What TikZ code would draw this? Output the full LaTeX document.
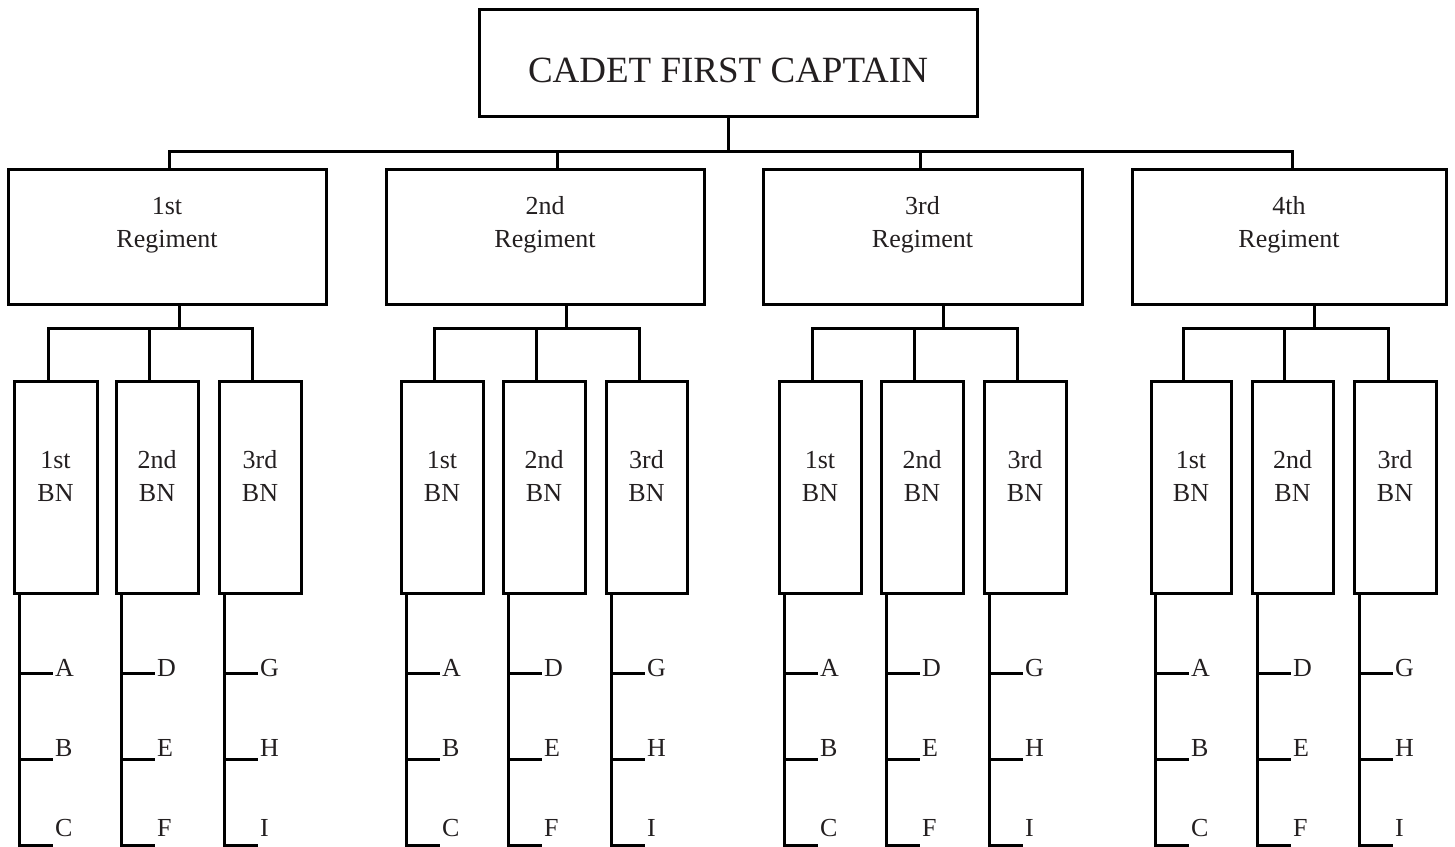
\documentclass[tikz,border=0pt]{standalone}
\usepackage{fontspec}
\setmainfont{Liberation Serif}
\definecolor{ink}{RGB}{35,31,32}
\tikzset{
  conn/.style={draw=black, line width=3pt},
  boxst/.style={draw=black, line width=3pt, rectangle, inner sep=0pt, outer sep=0pt, anchor=north west},
  txt/.style={inner sep=0pt, text=ink, font=\fontsize{26}{33}\selectfont, anchor=base},
}
\newcommand{\twolines}[2]{\begin{tabular}[t]{@{}c@{}}#1\\#2\end{tabular}}
% #1 name, #2 left, #3 right, #4 top drop x, #5 ordinal, #6 bottom drop x
\newcommand{\myreg}[6]{%
  \node[boxst, minimum width={(#3)-(#2)}, minimum height=135] (#1) at (#2,169) {};
  \node[txt] (#1t) at ({((#2)+(#3))/2},214) {\twolines{#5}{Regiment}};
  \coordinate (#1up) at (#4,151);
  \coordinate (#1dn) at (#6,328);
  \draw[conn] (#1.south -| #1dn) -- (#1dn);
}
% #1 name, #2 left, #3 right, #4 bus drop x, #5 ordinal, #6 company line x, #7-#9 letters
\newcommand{\mybn}[9]{%
  \node[boxst, minimum width={(#3)-(#2)}, minimum height=212] (#1) at (#2,381) {};
  \node[txt] (#1t) at ({((#2)+(#3))/2},468) {\twolines{#5}{BN}};
  \coordinate (#1up) at (#4,328);
  \coordinate (#1a) at (#6,673);
  \coordinate (#1b) at (#6,759);
  \coordinate (#1c) at (#6,845);
  \draw[conn] (#1.south -| #1c) -- (#1c) -- ++(34,0);
  \draw[conn] (#1a) -- ++(34,0);
  \draw[conn] (#1b) -- ++(34,0);
  \node[txt, anchor=base west] (#1la) at ({(#6)+36},676) {#7};
  \node[txt, anchor=base west] (#1lb) at ({(#6)+36},756) {#8};
  \node[txt, anchor=base west] (#1lc) at ({(#6)+36},836) {#9};
}
\newcommand{\mybus}[3]{% #1 first bn, #2 middle bn, #3 last bn
  \draw[conn] (#1.north -| #1up) -- (#1up) -- (#3up) -- (#3up |- #3.north);
  \draw[conn] (#2up) -- (#2up |- #2.north);
}
\begin{document}
\begin{tikzpicture}[x=1pt,y=-1pt]
\useasboundingbox (0,0) rectangle (1455,846);
\node[boxst, minimum width=498, minimum height=107] (cfc) at (479,9) {};
\node[txt, font=\fontsize{37}{44}\selectfont] (cfct) at (728,82) {CADET FIRST CAPTAIN};
\coordinate (bus) at (728,151);
\draw[conn] (cfc.south) -- (bus);

\myreg{r1}{8}{326}{169}{1st}{179}
\myreg{r2}{386}{704}{557}{2nd}{566}
\myreg{r3}{763}{1082}{920}{3rd}{943}
\myreg{r4}{1132}{1446}{1292}{4th}{1314}
\draw[conn] (r1.north -| r1up) -- (r1up) -- (r4up) -- (r4up |- r4.north);
\draw[conn] (r2up) -- (r2up |- r2.north);
\draw[conn] (r3up) -- (r3up |- r3.north);

\mybn{b11}{14}{97}{48}{1st}{19}{A}{B}{C}
\mybn{b12}{116}{198}{149}{2nd}{121}{D}{E}{F}
\mybn{b13}{219}{301}{252}{3rd}{224}{G}{H}{I}
\mybus{b11}{b12}{b13}

\mybn{b21}{401}{483}{434}{1st}{406}{A}{B}{C}
\mybn{b22}{503}{585}{536}{2nd}{508}{D}{E}{F}
\mybn{b23}{606}{687}{639}{3rd}{611}{G}{H}{I}
\mybus{b21}{b22}{b23}

\mybn{b31}{779}{861}{812}{1st}{784}{A}{B}{C}
\mybn{b32}{881}{963}{914}{2nd}{886}{D}{E}{F}
\mybn{b33}{984}{1066}{1017}{3rd}{989}{G}{H}{I}
\mybus{b31}{b32}{b33}

\mybn{b41}{1151}{1231}{1183}{1st}{1155}{A}{B}{C}
\mybn{b42}{1252}{1333}{1284}{2nd}{1257}{D}{E}{F}
\mybn{b43}{1354}{1436}{1388}{3rd}{1359}{G}{H}{I}
\mybus{b41}{b42}{b43}
\end{tikzpicture}
\end{document}
